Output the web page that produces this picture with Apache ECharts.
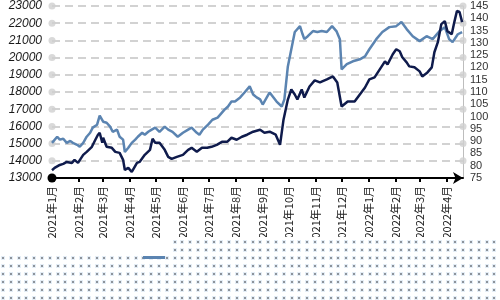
<!DOCTYPE html>
<html><head><meta charset="utf-8">
<script src="https://cdn.jsdelivr.net/npm/echarts@6/dist/echarts.min.js"></script>
<style>html,body{margin:0;padding:0;background:#fff}#c{width:500px;height:300px}</style>
</head><body><div id="c"></div>
<script>
// month tick positions (x axis labels)
const monthTicks = ['2021-01-01','2021-02-01','2021-03-01','2021-04-01','2021-05-01','2021-06-01','2021-07-01','2021-08-01','2021-09-01','2021-10-01','2021-11-01','2021-12-01','2022-01-01','2022-02-01','2022-03-01','2022-04-01'];
const leftTicks = [14000,15000,16000,17000,18000,19000,20000,21000,22000,23000];

// light blue series (right axis)
const lightDates = ['2021-01-01','2021-01-07','2021-01-10','2021-01-14','2021-01-18','2021-01-22','2021-01-25','2021-01-30','2021-02-02','2021-02-06','2021-02-10','2021-02-14','2021-02-17','2021-02-22','2021-02-25','2021-03-01','2021-03-05','2021-03-09','2021-03-12','2021-03-17','2021-03-20','2021-03-24','2021-03-26','2021-03-30','2021-04-03','2021-04-07','2021-04-10','2021-04-15','2021-04-18','2021-04-22','2021-04-26','2021-04-30','2021-05-05','2021-05-11','2021-05-15','2021-05-20','2021-05-26','2021-06-01','2021-06-07','2021-06-11','2021-06-17','2021-06-20','2021-06-24','2021-06-30','2021-07-05','2021-07-11','2021-07-16','2021-07-19','2021-07-23','2021-07-27','2021-07-31','2021-08-06','2021-08-11','2021-08-17','2021-08-21','2021-08-25','2021-08-29','2021-09-01','2021-09-09','2021-09-17','2021-09-23','2021-09-26','2021-09-30','2021-10-04','2021-10-08','2021-10-14','2021-10-17','2021-10-19','2021-10-23','2021-10-29','2021-11-03','2021-11-08','2021-11-14','2021-11-20','2021-11-25','2021-11-29','2021-12-01','2021-12-07','2021-12-14','2021-12-22','2021-12-28','2022-01-02','2022-01-10','2022-01-17','2022-01-25','2022-02-02','2022-02-08','2022-02-14','2022-02-21','2022-03-01','2022-03-09','2022-03-16','2022-03-24','2022-03-30','2022-04-04','2022-04-08','2022-04-14','2022-04-19'];
const lightValues = [89.3,91.8,90.6,91.0,89.3,90.1,89.3,88.5,87.7,89.3,91.8,93.4,95.5,96.7,100.4,97.9,97.5,95.9,93.8,94.7,91.8,90.6,85.6,87.3,89.3,90.6,91.8,93.4,92.6,93.8,94.7,95.5,93.8,95.9,94.7,93.8,91.8,93.4,94.7,95.5,93.4,92.6,94.7,96.7,98.7,99.6,101.6,102.8,104.1,106.1,106.1,107.8,109.8,112.3,109.0,107.8,107.0,104.9,109.8,106.1,104.1,107.0,120.4,127.4,134.4,136.8,133.5,131.5,132.7,134.8,134.4,134.8,134.4,136.8,134.8,131.5,119.2,121.3,122.5,123.3,124.5,127.4,131.5,134.4,136.4,136.8,138.5,135.6,132.7,130.7,132.7,131.5,134.8,136.4,131.5,130.3,133.5,134.4];

// dark navy series (left axis)
const darkDates = ['2021-01-01','2021-01-04','2021-01-10','2021-01-14','2021-01-18','2021-01-24','2021-01-27','2021-01-31','2021-02-06','2021-02-10','2021-02-16','2021-02-20','2021-02-23','2021-02-25','2021-02-28','2021-03-01','2021-03-05','2021-03-11','2021-03-15','2021-03-20','2021-03-24','2021-03-26','2021-03-30','2021-04-03','2021-04-09','2021-04-12','2021-04-18','2021-04-24','2021-04-27','2021-04-30','2021-05-05','2021-05-11','2021-05-15','2021-05-19','2021-05-25','2021-06-01','2021-06-07','2021-06-11','2021-06-17','2021-06-23','2021-06-29','2021-07-04','2021-07-10','2021-07-16','2021-07-22','2021-07-27','2021-08-02','2021-08-08','2021-08-14','2021-08-21','2021-08-29','2021-09-03','2021-09-09','2021-09-16','2021-09-21','2021-09-25','2021-09-30','2021-10-04','2021-10-08','2021-10-11','2021-10-16','2021-10-19','2021-10-25','2021-10-31','2021-11-06','2021-11-14','2021-11-21','2021-11-26','2021-12-01','2021-12-08','2021-12-16','2021-12-22','2021-12-28','2022-01-02','2022-01-08','2022-01-14','2022-01-20','2022-01-23','2022-01-29','2022-02-02','2022-02-06','2022-02-09','2022-02-14','2022-02-17','2022-02-23','2022-03-01','2022-03-04','2022-03-10','2022-03-15','2022-03-18','2022-03-22','2022-03-26','2022-03-30','2022-04-02','2022-04-07','2022-04-10','2022-04-13','2022-04-16','2022-04-19'];
const darkValues = [13450,13585,13760,13820,13935,13877,14053,13877,14345,14520,14813,15222,15515,15632,15047,15339,14813,14754,14520,14462,14053,13468,13585,13351,13877,13936,14345,14637,15281,15047,15047,14637,14228,14111,14228,14345,14637,14754,14520,14754,14754,14813,14930,15105,15105,15339,15222,15398,15515,15690,15807,15632,15690,15515,14930,16392,17561,18146,17854,17561,18146,17678,18322,18673,18556,18731,18906,18556,17152,17444,17444,17854,18263,18731,18848,19316,19784,19608,20193,20485,20368,20018,19725,19491,19433,19199,18906,19140,19433,20310,20895,21947,22123,21538,21363,22064,22708,22650,22064];

const lightName = '指数';
const darkName = '价格';

const ts = s => Date.UTC(+s.slice(0, 4), +s.slice(5, 7) - 1, +s.slice(8, 10));
const pair = (d, v) => d.map((x, i) => [ts(x), v[i]]);
const chart = echarts.init(document.getElementById('c'), null, {renderer: 'canvas'});

const minX = ts('2021-01-01'), maxX = ts('2022-04-20');
const tickX = monthTicks.map(ts);

// dotted band decoration at the bottom (as in the picture)
const band = [{
  type: 'polygon', z: 100, silent: true,
  shape: {points: [[166, 237], [500, 237], [500, 300], [0, 300], [0, 256], [166, 256]]},
  style: {fill: '#ffffff'}
}];
for (let y = 241; y < 300; y += 8) {
  for (let x = 2; x < 500; x += 7.8) {
    if (y < 255 && x < 166) continue;
    const rx = Math.round(x);
    band.push({type: 'rect', z: 101, silent: true, shape: {x: rx - 1, y: y - 1, width: 4, height: 4}, style: {fill: '#e4edf6'}});
    band.push({type: 'rect', z: 102, silent: true, shape: {x: rx, y: y, width: 2, height: 2}, style: {fill: '#8d939b'}});
  }
}

chart.setOption({
  animation: false,
  grid: {left: 52, right: 37, top: 6, bottom: 122},
  legend: {
    data: [lightName], left: 138, top: 251, itemWidth: 22, itemHeight: 3, icon: 'rect', z: 200,
    formatter: () => '', selectedMode: false
  },
  xAxis: {
    type: 'value', min: minX, max: maxX,
    axisLine: {show: true, onZero: false, lineStyle: {color: '#000', width: 2}, symbol: ['circle', 'arrow'], symbolSize: [9, 10]},
    axisTick: {show: true, length: 4, lineStyle: {color: '#000', width: 2}, customValues: tickX},
    axisLabel: {
      rotate: 90, fontSize: 11, color: '#222', fontFamily: 'Noto Sans CJK SC', margin: 8,
      customValues: tickX,
      formatter: v => { const d = new Date(v); return d.getUTCFullYear() + '年' + (d.getUTCMonth() + 1) + '月'; }
    },
    splitLine: {show: false}
  },
  yAxis: [
    {
      type: 'value', min: 13000, max: 23000, interval: 1000,
      axisLine: {show: false}, axisTick: {show: false},
      axisLabel: {fontSize: 12, fontStyle: 'italic', color: '#1a1a1a', fontFamily: 'Liberation Sans', margin: 10, formatter: v => String(v)},
      splitLine: {show: true, lineStyle: {color: '#d2d2d2', width: 2, type: [8, 5]}}
    },
    {
      type: 'value', min: 75, max: 145, interval: 5, position: 'right',
      axisLine: {show: true, lineStyle: {color: '#bdbdbd', width: 1}}, axisTick: {show: false},
      axisLabel: {fontSize: 11, color: '#333', fontFamily: 'Liberation Sans', margin: 7},
      splitLine: {show: false}
    }
  ],
  series: [
    {
      type: 'scatter', yAxisIndex: 0, symbolSize: 7, z: 1,
      itemStyle: {color: '#cfcfcf'},
      data: leftTicks.map(v => [minX, v]).concat(leftTicks.map(v => [maxX, v]))
    },
    {
      name: lightName, type: 'line', yAxisIndex: 1, symbol: 'none', z: 3,
      lineStyle: {color: '#5b84b1', width: 2.5}, itemStyle: {color: '#5b84b1'},
      data: pair(lightDates, lightValues)
    },
    {
      name: darkName, type: 'line', yAxisIndex: 0, symbol: 'none', z: 4,
      lineStyle: {color: '#0f1b4c', width: 2.5}, itemStyle: {color: '#0f1b4c'},
      data: pair(darkDates, darkValues)
    }
  ],
  graphic: band
});
</script></body></html>
